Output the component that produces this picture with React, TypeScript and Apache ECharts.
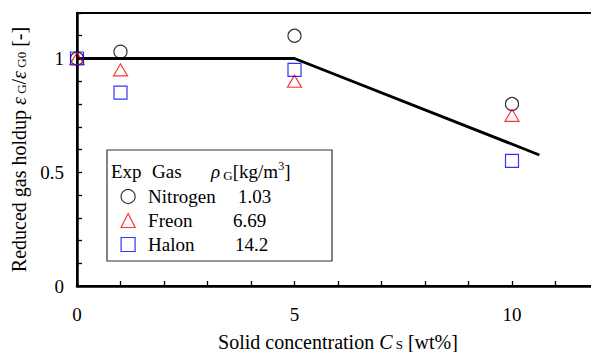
import React, { useEffect, useRef } from "react";
import * as echarts from "echarts";

// Data
const concentrations = [0, 1, 5, 10];
const nitrogen = [1.0, 1.03, 1.1, 0.8];
const freon = [1.0, 0.95, 0.9, 0.75];
const halon = [1.0, 0.85, 0.95, 0.55];
const correlationX = [0, 5, 10.63];
const correlationY = [1.0, 1.0, 0.576];
const gasNames = ["Nitrogen", "Freon", "Halon"];
const gasDensity = ["1.03", "6.69", "14.2"];
const xTickLabels = [0, 5, 10];
const yTickLabels = [0, 0.5, 1];

const FONT = "Liberation Serif";
const FS = 19;

export default function App() {
  const ref = useRef<HTMLDivElement>(null);
  useEffect(() => {
    if (!ref.current) return;
    const chart = echarts.init(ref.current, undefined, { renderer: "svg" });
    const pairs = (ys: number[]) => concentrations.map((x, i) => [x, ys[i]]);
    const nameBase = { fontFamily: FONT, fontSize: 20, lineHeight: 18, color: "#000" };
    const nameItalic = { ...nameBase, fontStyle: "italic" as const };
    const nameSub = { fontFamily: FONT, fontSize: 13, lineHeight: 8, verticalAlign: "bottom" as const, color: "#000" };
    const base = { fontFamily: FONT, fontSize: FS, lineHeight: 22, color: "#000" };
    const nameWidths = [90, 85, 87];
    chart.setOption({
      animation: false,
      backgroundColor: "#fff",
      textStyle: { fontFamily: FONT, fontSize: FS, color: "#000" },
      grid: {
        left: 77,
        top: 13,
        width: 522,
        height: 273,
        show: true,
        borderColor: "#000",
        borderWidth: 2,
        backgroundColor: "transparent",
        outerBoundsMode: "none",
        containLabel: false,
      },
      xAxis: {
        type: "value",
        min: 0,
        max: 12,
        interval: 1,
        name: "Solid concentration {i|C}{s| S} [wt%]",
        nameLocation: "middle",
        nameGap: 47,
        nameTextStyle: { ...nameBase, rich: { i: nameItalic, s: nameSub } },
        axisLine: { show: true, lineStyle: { color: "#000", width: 2.5 } },
        axisTick: { show: true, inside: true, length: 5, lineStyle: { color: "#000", width: 1.3 } },
        splitLine: { show: false },
        axisLabel: {
          margin: 19,
          fontFamily: FONT,
          fontSize: FS,
          color: "#000",
          formatter: (v: number) => (xTickLabels.includes(Math.round(v * 100) / 100) ? String(v) : ""),
        },
      },
      yAxis: {
        type: "value",
        min: 0,
        max: 1.2,
        interval: 0.1,
        name: "Reduced gas holdup {e|ε}{s| G}/{e|ε}{s| G0} [-]",
        nameLocation: "middle",
        nameGap: 40,
        nameTextStyle: { ...nameBase, rich: { e: nameItalic, s: nameSub } },
        axisLine: { show: true, lineStyle: { color: "#000", width: 2.5 } },
        axisTick: { show: true, inside: true, length: 5, lineStyle: { color: "#000", width: 1.3 } },
        splitLine: { show: false },
        axisLabel: {
          margin: 13,
          fontFamily: FONT,
          fontSize: FS,
          color: "#000",
          formatter: (v: number) => {
            const r = Math.round(v * 100) / 100;
            return yTickLabels.includes(r) ? String(r) : "";
          },
        },
      },
      legend: {
        orient: "vertical",
        left: 120.5,
        top: 187,
        padding: 0,
        itemWidth: 14,
        itemHeight: 14,
        itemGap: 5,
        selectedMode: false,
        data: gasNames,
        itemStyle: { borderWidth: 1.2 },
        formatter: (name: string) => {
          const i = gasNames.indexOf(name);
          return `{n${i}|${name}}{v|${gasDensity[i]}}`;
        },
        textStyle: {
          fontFamily: FONT,
          fontSize: FS,
          color: "#000",
          rich: {
            n0: { ...base, width: nameWidths[0], padding: [0, 0, 0, 8] },
            n1: { ...base, width: nameWidths[1], padding: [0, 0, 0, 8] },
            n2: { ...base, width: nameWidths[2], padding: [0, 0, 0, 8] },
            v: { ...base },
          },
        },
      },
      graphic: [
        {
          type: "rect",
          shape: { x: 107, y: 150, width: 225, height: 111 },
          style: { fill: "#fff", stroke: "#333", lineWidth: 1.2 },
          z: 1,
        },
        {
          type: "text",
          x: 111,
          y: 171,
          z: 2,
          style: { text: "Exp", fontFamily: FONT, fontSize: FS, fill: "#000", verticalAlign: "middle" },
        },
        {
          type: "text",
          x: 152,
          y: 171,
          z: 2,
          style: { text: "Gas", fontFamily: FONT, fontSize: FS, fill: "#000", verticalAlign: "middle" },
        },
        {
          type: "text",
          x: 211,
          y: 171,
          z: 2,
          style: {
            text: "{r|ρ}{g| G}[kg/m{p|3}]",
            fontFamily: FONT,
            fontSize: FS,
            fill: "#000",
            lineHeight: 22,
            verticalAlign: "middle",
            rich: {
              r: { fontFamily: FONT, fontSize: FS, fontStyle: "italic", lineHeight: 22 },
              g: { fontFamily: FONT, fontSize: 13, lineHeight: 13, verticalAlign: "bottom" },
              p: { fontFamily: FONT, fontSize: 12, lineHeight: 12, verticalAlign: "top" },
            },
          },
        },
      ],
      series: [
        {
          type: "line",
          data: correlationX.map((x, i) => [x, correlationY[i]]),
          showSymbol: false,
          symbol: "none",
          lineStyle: { color: "#000", width: 2.8, join: "round" },
          z: 3,
          silent: true,
        },
        {
          name: gasNames[0],
          type: "scatter",
          data: pairs(nitrogen),
          symbol: "circle",
          symbolSize: 13,
          itemStyle: { color: "rgba(0,0,0,0)", borderColor: "#000", borderWidth: 1.2 },
          z: 4,
        },
        {
          name: gasNames[1],
          type: "scatter",
          data: pairs(freon),
          symbol: "triangle",
          symbolSize: [14, 12],
          itemStyle: { color: "rgba(0,0,0,0)", borderColor: "#ff0000", borderWidth: 1.2 },
          z: 4,
        },
        {
          name: gasNames[2],
          type: "scatter",
          data: pairs(halon),
          symbol: "rect",
          symbolSize: 13,
          itemStyle: { color: "rgba(0,0,0,0)", borderColor: "#0000ff", borderWidth: 1.2 },
          z: 4,
        },
      ],
    });
    return () => chart.dispose();
  }, []);
  return (
    <div
      ref={ref}
      style={{ position: "absolute", left: 0, top: 0, width: 591, height: 352, overflow: "hidden" }}
    />
  );
}
